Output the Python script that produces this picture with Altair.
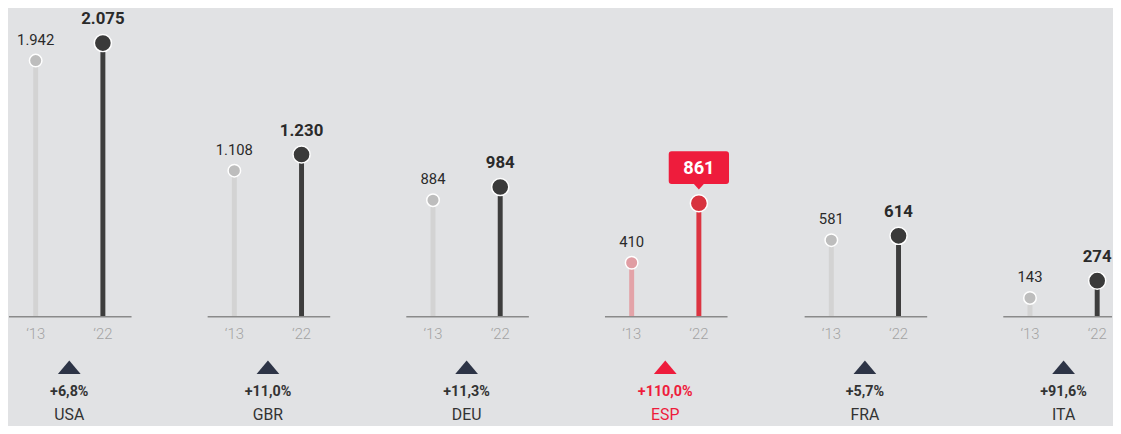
import altair as alt
import pandas as pd

# ---- data ----
countries = ["USA", "GBR", "DEU", "ESP", "FRA", "ITA"]
values_2013 = [1942, 1108, 884, 410, 581, 143]
values_2022 = [2075, 1230, 984, 861, 614, 274]
change_labels = ["+6,8%", "+11,0%", "+11,3%", "+110,0%", "+5,7%", "+91,6%"]
year_labels = ["\u201813", "\u201822"]
highlight = "ESP"

# ---- styling ----
FONT = "Roboto"
BG = "#e1e2e4"
RED = "#ee1c3c"
W, H = 124, 418
W_LAST = 110
SPACING = 75
X13, X22 = 27, 95
XC = (X13 + X22) / 2


def fmt(v):
    return f"{v:,}".replace(",", ".")


rows = []
for c, a, b, p in zip(countries, values_2013, values_2022, change_labels):
    hl = c == highlight
    for yr, v in zip(year_labels, (a, b)):
        is22 = yr == year_labels[1]
        if hl:
            stem = "#dc3441" if is22 else "#e3a3a8"
            dot = "#d8333f" if is22 else "#e09da3"
            accent = RED
            tri = RED
        else:
            stem = "#3d3d3d" if is22 else "#d3d3d3"
            dot = "#3a3a3a" if is22 else "#bdbdbd"
            accent = "#333333"
            tri = "#2d3446"
        rows.append(dict(country=c, year=yr, value=v, base=0, label=fmt(v), change=p,
                         hl=hl, is22=is22, stem=stem, dot=dot,
                         size=300 if is22 else 160, accent=accent, tri=tri))
df = pd.DataFrame(rows)

y_scale = alt.Scale(domain=[-809, 2322.3], nice=False, zero=False)
x_enc = alt.X("year:N", sort=year_labels,
              scale=alt.Scale(type="point", domain=year_labels, range=[X13, X22],
                              padding=0),
              axis=None)
y_enc = alt.Y("value:Q", scale=y_scale, axis=None)

BOX = ("M-27.5,-16.5 L27.5,-16.5 Q30.5,-16.5 30.5,-13.5 L30.5,13.5 Q30.5,16.5 27.5,16.5 "
       "L5,16.5 L0,22 L-5,16.5 L-27.5,16.5 Q-30.5,16.5 -30.5,13.5 L-30.5,-13.5 "
       "Q-30.5,-16.5 -27.5,-16.5 Z")
TRI = "M-11.5,6.75 L11.5,6.75 L0,-6.75 Z"


def make_panel(country, width):
    base = alt.Chart()

    stems = base.mark_rule(strokeWidth=5).encode(
        x=x_enc, y=y_enc, y2="base:Q",
        color=alt.Color("stem:N", scale=None))

    baseline = base.mark_rule(color="#8a8a8a", strokeWidth=1.5).encode(
        x=alt.value(0), x2=alt.value(width),
        y=alt.Y("base:Q", scale=y_scale, axis=None)
    ).transform_filter("datum.is22")

    dots = base.mark_circle(opacity=1, stroke="white", strokeWidth=1.5).encode(
        x=x_enc, y=y_enc,
        fill=alt.Fill("dot:N", scale=None),
        size=alt.Size("size:Q", scale=None))

    lab13 = base.mark_text(font=FONT, fontSize=15, color="#2a2a2a", dy=-21,
                           baseline="middle").encode(
        x=x_enc, y=y_enc, text="label:N"
    ).transform_filter("!datum.is22")

    layers = [stems, baseline, dots, lab13]

    if country == highlight:
        box = base.mark_point(shape=BOX, size=4, filled=True, color=RED, opacity=1,
                              strokeWidth=0, yOffset=-36).encode(
            x=x_enc, y=y_enc
        ).transform_filter("datum.is22")
        box_text = base.mark_text(font=FONT, fontSize=18.5, fontWeight="bold",
                                  color="white", dy=-36, baseline="middle").encode(
            x=x_enc, y=y_enc, text="label:N"
        ).transform_filter("datum.is22")
        layers += [box, box_text]
    else:
        lab22 = base.mark_text(font=FONT, fontSize=17, fontWeight="bold",
                               color="#2a2a2a", dy=-24, baseline="middle").encode(
            x=x_enc, y=y_enc, text="label:N"
        ).transform_filter("datum.is22")
        layers.append(lab22)

    years = base.mark_text(font=FONT, fontSize=15, fontWeight=300, color="#a3a3a3",
                           baseline="middle").encode(
        x=x_enc, y=alt.value(327.5), text="year:N")

    tri = base.mark_point(shape=TRI, size=4, filled=True, opacity=1,
                          strokeWidth=0).encode(
        x=alt.value(XC), y=alt.value(361),
        fill=alt.Fill("tri:N", scale=None)
    ).transform_filter("datum.is22")

    pct = base.mark_text(font=FONT, fontSize=14.5, fontWeight="bold",
                         baseline="middle").encode(
        x=alt.value(XC), y=alt.value(386.5), text="change:N",
        color=alt.Color("accent:N", scale=None)
    ).transform_filter("datum.is22")

    name = base.mark_text(font=FONT, fontSize=16, baseline="middle").encode(
        x=alt.value(XC), y=alt.value(409.5), text="country:N",
        color=alt.Color("accent:N", scale=None)
    ).transform_filter("datum.is22")

    layers += [years, tri, pct, name]

    return alt.layer(*layers, data=df).transform_filter(
        alt.datum.country == country
    ).properties(width=width, height=H)


panels = [make_panel(c, W_LAST if i == len(countries) - 1 else W)
          for i, c in enumerate(countries)]

chart = alt.hconcat(*panels, spacing=SPACING).properties(
    background=BG,
    padding=0,
).configure_view(stroke=None)

chart.save("out.html", embed_options={"renderer": "svg", "actions": False})
